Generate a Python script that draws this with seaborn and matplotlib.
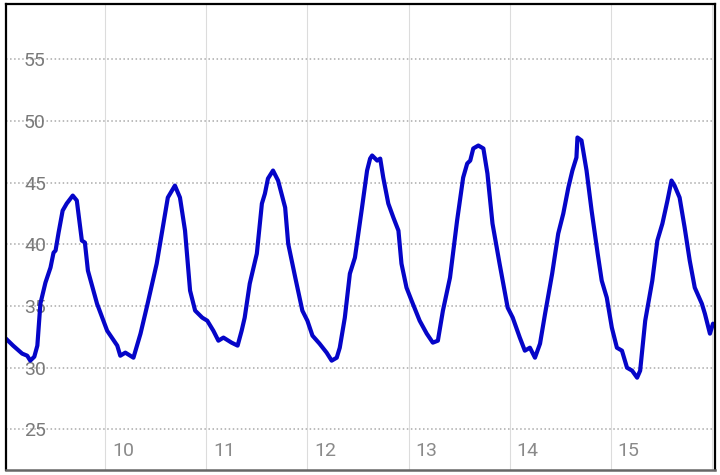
import matplotlib
matplotlib.use("Agg")
import matplotlib.pyplot as plt
import seaborn as sns
import pandas as pd

# day (fractional) vs. reading
days = [9.02, 9.09, 9.18, 9.23, 9.26, 9.30, 9.33, 9.36, 9.41, 9.46,
        9.49, 9.51, 9.54, 9.58, 9.62, 9.68, 9.72, 9.77, 9.80, 9.83,
        9.92, 10.02, 10.12, 10.15, 10.20, 10.28, 10.35, 10.42, 10.51, 10.57,
        10.62, 10.69, 10.74, 10.79, 10.84, 10.89, 10.96, 11.01, 11.07, 11.12,
        11.17, 11.25, 11.31, 11.35, 11.38, 11.43, 11.50, 11.55, 11.58, 11.61,
        11.66, 11.71, 11.78, 11.81, 11.88, 11.95, 12.00, 12.05, 12.12, 12.19,
        12.24, 12.29, 12.32, 12.37, 12.42, 12.47, 12.54, 12.59, 12.62, 12.64,
        12.69, 12.72, 12.75, 12.80, 12.85, 12.90, 12.93, 12.98, 13.03, 13.11,
        13.18, 13.24, 13.29, 13.34, 13.41, 13.48, 13.54, 13.58, 13.61, 13.64,
        13.69, 13.74, 13.78, 13.83, 13.90, 13.98, 14.03, 14.10, 14.15, 14.20,
        14.25, 14.30, 14.35, 14.42, 14.48, 14.53, 14.58, 14.62, 14.66, 14.67,
        14.71, 14.76, 14.81, 14.87, 14.91, 14.96, 15.01, 15.06, 15.11, 15.16,
        15.21, 15.26, 15.29, 15.34, 15.41, 15.46, 15.51, 15.56, 15.60, 15.63,
        15.68, 15.73, 15.78, 15.83, 15.90, 15.93, 15.98, 16.01]
values = [32.35, 31.79, 31.14, 30.97, 30.57, 30.89, 31.79, 35.19, 36.90, 38.12,
          39.33, 39.50, 40.96, 42.74, 43.31, 43.96, 43.56, 40.31, 40.15, 37.87,
          35.19, 33.00, 31.79, 30.97, 31.22, 30.81, 32.76, 35.19, 38.44, 41.36,
          43.80, 44.77, 43.80, 41.12, 36.25, 34.63, 34.06, 33.81, 33.00, 32.19,
          32.44, 32.03, 31.79, 33.00, 34.06, 36.82, 39.25, 43.31, 44.12, 45.34,
          45.99, 45.18, 42.99, 40.06, 37.31, 34.63, 33.81, 32.60, 31.95, 31.22,
          30.57, 30.81, 31.62, 34.06, 37.63, 38.93, 42.99, 45.99, 46.96, 47.21,
          46.80, 46.96, 45.42, 43.31, 42.18, 41.12, 38.44, 36.49, 35.44, 33.81,
          32.76, 32.03, 32.19, 34.63, 37.31, 41.93, 45.42, 46.56, 46.80, 47.78,
          48.02, 47.78, 45.75, 41.69, 38.44, 34.87, 34.06, 32.44, 31.38, 31.62,
          30.81, 31.95, 34.38, 37.63, 40.88, 42.50, 44.61, 45.99, 47.05, 48.67,
          48.43, 45.99, 42.74, 39.25, 37.06, 35.68, 33.25, 31.62, 31.38, 30.00,
          29.76, 29.19, 29.76, 33.81, 37.06, 40.31, 41.69, 43.56, 45.18, 44.77,
          43.80, 41.36, 38.69, 36.49, 35.19, 34.38, 32.76, 33.57]

x_ticks = [10, 11, 12, 13, 14, 15, 16]
x_labels = ["10", "11", "12", "13", "14", "15", ""]
y_ticks = [25, 30, 35, 40, 45, 50, 55]

df = pd.DataFrame({"day": days, "value": values})

sns.set_style("white")
plt.rcParams["font.family"] = ["Roboto", "DejaVu Sans"]

fig = plt.figure(figsize=(7.2, 4.75), dpi=100)
ax = fig.add_axes([6 / 720, 5 / 475, 709 / 720, 466 / 475])

sns.lineplot(data=df, x="day", y="value", sort=False, color="#0505c8",
             linewidth=3.0, ax=ax)
ax.lines[0].set_solid_joinstyle("round")
ax.lines[0].set_solid_capstyle("round")

ax.set_xlim(9.02, 16.03)
ax.set_ylim(21.7, 59.5)
ax.set_xlabel("")
ax.set_ylabel("")

# grid
ax.set_yticks(y_ticks)
ax.set_xticks(x_ticks)
ax.set_xticklabels([])
ax.yaxis.grid(True, linestyle=":", color="#aaaaaa", linewidth=1.1)
ax.xaxis.grid(True, linestyle="-", color="#dcdcdc", linewidth=0.8)
ax.set_axisbelow(True)

# y labels drawn inside the plot
ax.tick_params(axis="y", direction="in", length=6, width=1.2, color="#999999",
               pad=-13, labelsize=14, labelcolor="#7a7a7a")
for lab in ax.get_yticklabels():
    lab.set_horizontalalignment("left")
ax.tick_params(axis="x", length=0)

# x labels sit just right of each grid line, inside the bottom edge
for t, lab in zip(x_ticks, x_labels):
    ax.annotate(lab, xy=(t, 0), xycoords=("data", "axes fraction"),
                xytext=(5, 7), textcoords="offset points",
                ha="left", va="bottom", fontsize=14, color="#8a8a8a")

for side in ["left", "top", "right"]:
    ax.spines[side].set_color("black")
    ax.spines[side].set_linewidth(1.6)
ax.spines["bottom"].set_color("#666666")
ax.spines["bottom"].set_linewidth(1.8)

fig.savefig("out.png", dpi=100)
